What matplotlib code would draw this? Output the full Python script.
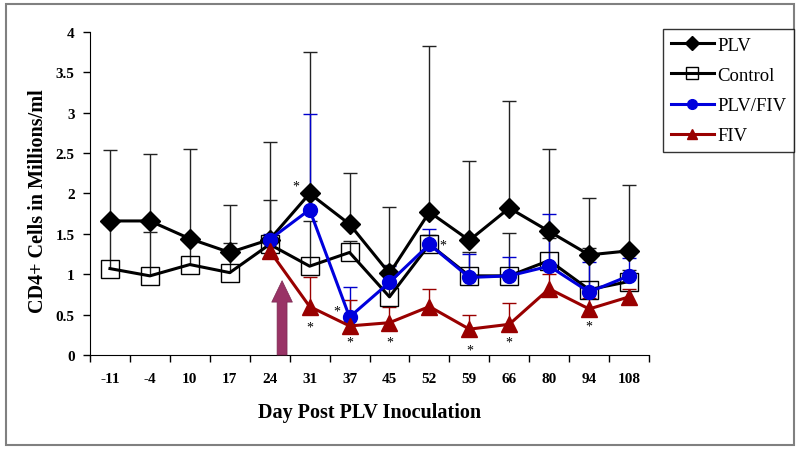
import numpy as np
import matplotlib.pyplot as plt
from matplotlib.patches import Rectangle

plt.rcParams['font.family'] = ['Liberation Serif', 'DejaVu Serif']

# Datos
days = ['-11', '-4', '10', '17', '24', '31', '37', '45', '52', '59', '66', '80', '94', '108']

plv = [1.66, 1.66, 1.44, 1.27, 1.43, 2.00, 1.62, 1.01, 1.77, 1.42, 1.82, 1.53, 1.24, 1.29]
plv_top = [2.54, 2.49, 2.55, 1.86, 2.64, 3.75, 2.26, 1.83, 3.83, 2.40, 3.15, 2.55, 1.94, 2.10]

control = [1.07, 0.98, 1.12, 1.02, 1.37, 1.10, 1.27, 0.72, 1.37, 0.98, 0.98, 1.17, 0.81, 0.91]
control_top = [1.62, 1.52, 1.42, 1.39, 1.92, 1.66, 1.41, 1.12, 1.48, 1.28, 1.51, 1.45, 1.33, 1.05]

plv_fiv = [np.nan, np.nan, np.nan, np.nan, 1.43, 1.80, 0.47, 0.90, 1.37, 0.96, 0.98, 1.10, 0.78, 0.98]
plv_fiv_top = [np.nan, np.nan, np.nan, np.nan, 1.50, 2.98, 0.84, 1.10, 1.56, 1.25, 1.21, 1.75, 1.15, 1.20]

fiv = [np.nan, np.nan, np.nan, np.nan, 1.29, 0.60, 0.36, 0.40, 0.60, 0.32, 0.38, 0.82, 0.57, 0.72]
fiv_top = [np.nan, np.nan, np.nan, np.nan, 1.40, 0.97, 0.68, 0.60, 0.82, 0.50, 0.64, 1.00, 0.70, 0.82]

# asteriscos de significancia: (posición, valor)
stars = [(4.66, 2.09), (5.69, 0.55), (8.33, 1.36),
         (5.0, 0.35), (6.0, 0.16), (7.0, 0.16), (9.0, 0.06), (10.0, 0.16), (12.0, 0.36)]

arrow_x = 4.31
arrow_top = 0.92

fig = plt.figure(figsize=(8, 4.52), dpi=100)
ax = fig.add_axes([0.1125, 0.2124, 0.6988, 0.7146])

x = np.arange(len(days))


def upper_err(ax, vals, tops, color):
    vals = np.array(vals, dtype=float)
    tops = np.array(tops, dtype=float)
    ok = ~np.isnan(vals)
    eb = ax.errorbar(x[ok], vals[ok], yerr=[np.zeros(ok.sum()), tops[ok] - vals[ok]],
                     fmt='none', ecolor=color, elinewidth=1, capsize=5, capthick=1, zorder=2)
    eb.lines[1][0].set_visible(False)


upper_err(ax, plv, plv_top, '#222222')
upper_err(ax, control, control_top, '#222222')
upper_err(ax, plv_fiv, plv_fiv_top, '#0000CC')
upper_err(ax, fiv, fiv_top, '#990000')

ax.plot(x, plv, color='black', lw=2.2, marker='D', ms=10, mfc='black', mec='black',
        label='PLV', zorder=4)
ax.plot(x, control, color='black', lw=2.2, marker='s', ms=13, mfc='none', mec='black',
        mew=1, label='Control', zorder=3)
ax.plot(x, plv_fiv, color='#0000DD', lw=2.2, marker='o', ms=10, mfc='#0000DD', mec='#0000DD',
        label='PLV/FIV', zorder=5)
ax.plot(x, fiv, color='#990000', lw=2.2, marker='^', ms=11, mfc='#990000', mec='#990000',
        label='FIV', zorder=6)

for sx, sy in stars:
    ax.text(sx, sy, '*', ha='center', va='center', fontsize=10, zorder=7)

# flecha de inoculación
ax.annotate('', xy=(arrow_x, arrow_top), xytext=(arrow_x, 0),
            arrowprops=dict(arrowstyle='simple,head_length=1.4,head_width=1.35,tail_width=0.65',
                            mutation_scale=11, fc='#993366', ec='#7a2850', lw=0.5,
                            shrinkA=0, shrinkB=0), zorder=8)

ax.set_xlim(-0.5, len(days) - 0.5)
ax.set_ylim(0, 4)
ax.set_yticks(np.arange(0, 4.01, 0.5))
ax.set_yticklabels(['0', '0.5', '1', '1.5', '2', '2.5', '3', '3.5', '4'])
ax.set_xticks(x)
ax.set_xticklabels(days)
ax.set_xticks(np.arange(-0.5, len(days), 1), minor=True)
ax.tick_params(axis='x', which='major', length=0, pad=12)
ax.tick_params(axis='x', which='minor', length=5, width=1)
ax.tick_params(axis='y', length=5, width=1, pad=6)
for lab in ax.get_xticklabels() + ax.get_yticklabels():
    lab.set_fontweight('bold')
    lab.set_fontsize(11)

ax.spines['top'].set_visible(False)
ax.spines['right'].set_visible(False)

fig.text(0.047, 0.555, 'CD4+ Cells in Millions/ml', rotation=90, ha='center', va='center',
         fontsize=14.5, fontweight='bold')
fig.text(0.462, 0.086, 'Day Post PLV Inoculation', ha='center', va='center',
         fontsize=14.5, fontweight='bold')

leg = fig.legend(loc='upper left', bbox_to_anchor=(663 / 800, 1 - 30 / 452), frameon=True,
                 fancybox=False, edgecolor='black', fontsize=13.5, handlelength=2.3,
                 handletextpad=0.2, borderpad=0.4, labelspacing=0.7, markerscale=0.7,
                 borderaxespad=0)
leg.get_frame().set_linewidth(1)

fig.add_artist(Rectangle((6 / 800, 1 - 446 / 452), 788 / 800, 441 / 452,
                         transform=fig.transFigure, fill=False, ec='#808080', lw=1.5))

fig.savefig('out.png', dpi=100)
